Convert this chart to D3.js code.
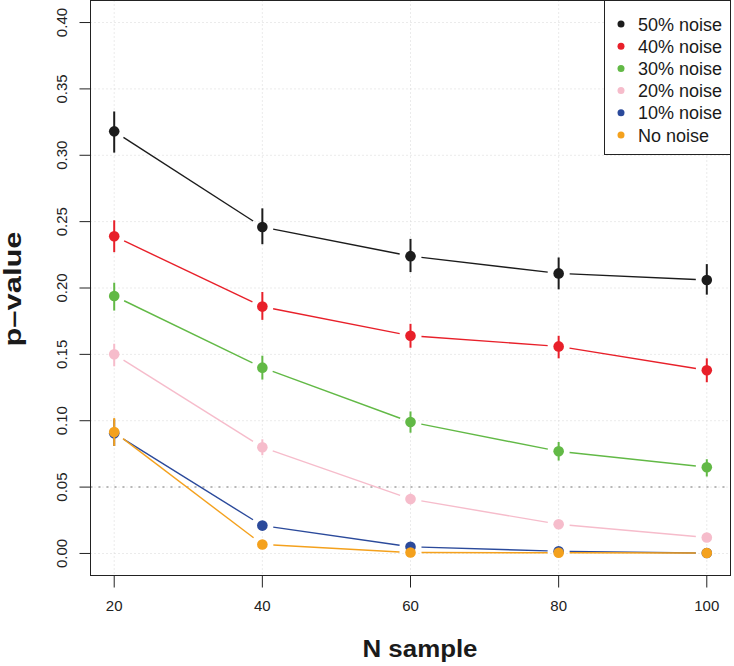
<!DOCTYPE html>
<html>
<head>
<meta charset="utf-8">
<script src="https://cdn.jsdelivr.net/npm/d3@7"></script>
<style>
  html, body { margin: 0; padding: 0; background: #fff; }
  svg { display: block; font-family: "Liberation Sans", Arial, Helvetica, sans-serif; }
</style>
</head>
<body>
<svg id="chart" width="734" height="666"></svg>
<script>
// ---- Data ----
const nSample = [20, 40, 60, 80, 100];
const xTicks = [20, 40, 60, 80, 100];
const yTicks = [0.00, 0.05, 0.10, 0.15, 0.20, 0.25, 0.30, 0.35, 0.40];
const yTickLabels = ["0.00", "0.05", "0.10", "0.15", "0.20", "0.25", "0.30", "0.35", "0.40"];

const seriesNames = ["50% noise", "40% noise", "30% noise", "20% noise", "10% noise", "No noise"];
const seriesColors = ["#1c1c1c", "#e8202a", "#62b946", "#f6bccb", "#2b4a9b", "#f4a11d"];

const noise50 = [0.318, 0.246, 0.224, 0.211, 0.206];
const noise50Lo = [0.302, 0.233, 0.212, 0.199, 0.195];
const noise50Hi = [0.333, 0.260, 0.237, 0.223, 0.218];

const noise40 = [0.239, 0.186, 0.164, 0.156, 0.138];
const noise40Lo = [0.227, 0.176, 0.155, 0.147, 0.129];
const noise40Hi = [0.251, 0.197, 0.173, 0.164, 0.147];

const noise30 = [0.194, 0.140, 0.099, 0.077, 0.065];
const noise30Lo = [0.183, 0.131, 0.091, 0.070, 0.058];
const noise30Hi = [0.204, 0.149, 0.107, 0.084, 0.071];

const noise20 = [0.150, 0.080, 0.041, 0.022, 0.012];
const noise20Lo = [0.141, 0.074, 0.037, 0.019, 0.010];
const noise20Hi = [0.158, 0.086, 0.045, 0.025, 0.014];

const noise10 = [0.0905, 0.021, 0.005, 0.0017, 0.0003];
const noise10Lo = [0.081, 0.018, 0.004, 0.001, 0.0];
const noise10Hi = [0.101, 0.024, 0.006, 0.0025, 0.0006];

const noise0 = [0.0915, 0.0068, 0.0007, 0.0005, 0.0003];
const noise0Lo = [0.081, 0.005, 0.0, 0.0, 0.0];
const noise0Hi = [0.102, 0.0085, 0.0015, 0.001, 0.0006];

const thresholdP = 0.05;

const seriesValues = [noise50, noise40, noise30, noise20, noise10, noise0];
const seriesLo = [noise50Lo, noise40Lo, noise30Lo, noise20Lo, noise10Lo, noise0Lo];
const seriesHi = [noise50Hi, noise40Hi, noise30Hi, noise20Hi, noise10Hi, noise0Hi];

// ---- Layout ----
const svg = d3.select("#chart");
const plot = { left: 90.5, right: 730.5, top: 0.5, bottom: 575.5 };

const x = d3.scaleLinear().domain([16.8, 103.2]).range([plot.left, plot.right]);
const y = d3.scaleLinear().domain([-0.0166, 0.4166]).range([plot.bottom, plot.top]);

// grid
const grid = svg.append("g");
grid.selectAll("line.vg").data(xTicks).enter().append("line")
  .attr("x1", d => x(d)).attr("x2", d => x(d))
  .attr("y1", plot.top).attr("y2", plot.bottom)
  .attr("stroke", "#d6d6d6").attr("stroke-width", 1).attr("stroke-dasharray", "1,3");
grid.selectAll("line.hg").data(yTicks).enter().append("line")
  .attr("x1", plot.left).attr("x2", plot.right)
  .attr("y1", d => y(d)).attr("y2", d => y(d))
  .attr("stroke", "#d6d6d6").attr("stroke-width", 1).attr("stroke-dasharray", "1,3");

// threshold line
svg.append("line")
  .attr("x1", plot.left).attr("x2", plot.right)
  .attr("y1", y(thresholdP)).attr("y2", y(thresholdP))
  .attr("stroke", "#b8b8b8").attr("stroke-width", 2).attr("stroke-dasharray", "2,6");

// series
const gap = 11;
seriesNames.forEach((name, si) => {
  const col = seriesColors[si];
  const vals = seriesValues[si];
  const g = svg.append("g");
  for (let i = 0; i < nSample.length - 1; i++) {
    const x0 = x(nSample[i]), y0 = y(vals[i]);
    const x1 = x(nSample[i + 1]), y1 = y(vals[i + 1]);
    const len = Math.hypot(x1 - x0, y1 - y0);
    const ux = (x1 - x0) / len, uy = (y1 - y0) / len;
    g.append("line")
      .attr("x1", x0 + ux * gap).attr("y1", y0 + uy * gap)
      .attr("x2", x1 - ux * gap).attr("y2", y1 - uy * gap)
      .attr("stroke", col).attr("stroke-width", 1.4);
  }
  g.selectAll("line.err").data(nSample).enter().append("line")
    .attr("x1", d => x(d)).attr("x2", d => x(d))
    .attr("y1", (d, i) => y(seriesLo[si][i]))
    .attr("y2", (d, i) => y(seriesHi[si][i]))
    .attr("stroke", col).attr("stroke-width", 2);
  g.selectAll("circle").data(nSample).enter().append("circle")
    .attr("cx", d => x(d)).attr("cy", (d, i) => y(vals[i]))
    .attr("r", 5.3).attr("fill", col);
});

// box
svg.append("rect")
  .attr("x", plot.left).attr("y", plot.top)
  .attr("width", plot.right - plot.left).attr("height", plot.bottom - plot.top)
  .attr("fill", "none").attr("stroke", "#222").attr("stroke-width", 1);

// x axis
const xAxis = svg.append("g");
xAxis.selectAll("line").data(xTicks).enter().append("line")
  .attr("x1", d => x(d)).attr("x2", d => x(d))
  .attr("y1", plot.bottom).attr("y2", plot.bottom + 12)
  .attr("stroke", "#222");
xAxis.selectAll("text").data(xTicks).enter().append("text")
  .attr("x", d => x(d)).attr("y", 611)
  .attr("text-anchor", "middle").attr("font-size", 15).attr("fill", "#222")
  .text(d => d);

// y axis
const yAxis = svg.append("g");
yAxis.selectAll("line").data(yTicks).enter().append("line")
  .attr("x1", plot.left - 11).attr("x2", plot.left)
  .attr("y1", d => y(d)).attr("y2", d => y(d))
  .attr("stroke", "#222");
yAxis.selectAll("text").data(yTicks).enter().append("text")
  .attr("transform", d => `translate(67,${y(d)}) rotate(-90)`)
  .attr("text-anchor", "middle").attr("font-size", 15).attr("fill", "#222")
  .text((d, i) => yTickLabels[i]);

// axis titles
svg.append("text")
  .attr("x", 420).attr("y", 657)
  .attr("text-anchor", "middle").attr("font-size", 23).attr("font-weight", "bold").attr("fill", "#1a1a1a")
  .attr("textLength", 115).attr("lengthAdjust", "spacingAndGlyphs")
  .text("N sample");
svg.append("text")
  .attr("transform", `translate(21,289) rotate(-90)`)
  .attr("text-anchor", "middle").attr("font-size", 23).attr("font-weight", "bold").attr("fill", "#1a1a1a")
  .attr("textLength", 115).attr("lengthAdjust", "spacingAndGlyphs")
  .text("p\u2013value");

// legend
const legend = svg.append("g");
legend.append("rect")
  .attr("x", 604.5).attr("y", 0.5).attr("width", 126).attr("height", 154)
  .attr("fill", "#fff").attr("stroke", "#222").attr("stroke-width", 1);
seriesNames.forEach((name, i) => {
  const ly = 24 + i * 22.2;
  legend.append("circle").attr("cx", 621).attr("cy", ly).attr("r", 3.5).attr("fill", seriesColors[i]);
  legend.append("text").attr("x", 638).attr("y", ly + 6.5)
    .attr("font-size", 18).attr("fill", "#1a1a1a").text(name);
});
</script>
</body>
</html>
